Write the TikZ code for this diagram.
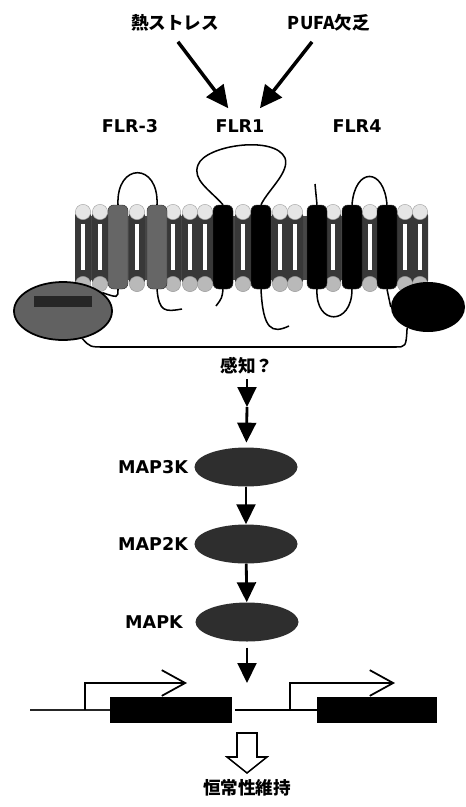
\documentclass[tikz,border=0pt]{standalone}
\usepackage{fontspec}
\usetikzlibrary{arrows.meta,shapes.geometric}
\newfontfamily\latfont{DejaVu Sans}
\newfontfamily\jpfont{Noto Sans CJK JP}

\tikzset{
  lbl/.style={font=\latfont\bfseries\fontsize{15}{18}\selectfont, inner sep=1pt},
  jlbl/.style={font=\jpfont\bfseries\fontsize{15}{18}\selectfont, inner sep=1pt},
  bigarrow/.style={line width=3pt, -{Triangle[length=19pt,width=18pt]}},
  kinarrow/.style={line width=2.4pt, -{Triangle[length=17pt,width=16pt]}},
  kinase/.style={ellipse, fill=black!82, minimum width=3.09cm, minimum height=1.17cm, inner sep=0pt},
  helix/.style={rectangle, rounded corners=5pt, minimum width=0.6cm, minimum height=2.52cm, inner sep=0pt, draw=black!80},
  loop/.style={line width=1.3pt},
  exon/.style={rectangle, fill=black, minimum height=0.79cm, inner sep=0pt},
  prom/.style={line width=1.5pt, -{Straight Barb[length=20pt,width=22pt]}},
}

\begin{document}
\begin{tikzpicture}[x=0.03cm, y=-0.03cm]
    \useasboundingbox (0,0) rectangle (465,807);

    \node[jlbl] (heat) at (175,23) {熱ストレス};
    \node[jlbl] (pufa) at (329,23) {PUFA欠乏};
    \node[lbl] (flr3) at (130,126) {FLR-3};
    \node[lbl] (flr1) at (240,126) {FLR1};
    \node[lbl] (flr4) at (357,126) {FLR4};
    \draw[bigarrow] ([xshift=2.5pt,yshift=-7.7pt]heat.south) -- ([xshift=-10pt,yshift=8.5pt]flr1.north);
    \draw[bigarrow] ([xshift=-14.5pt,yshift=-7.7pt]pufa.south) -- ([xshift=17pt,yshift=8.5pt]flr1.north);

    % lipid bilayer
    \fill[black!72] (78,216) rectangle (428,280);
    \foreach \x in {83,100,137,173,190,205,243,280,295,333,370,405,420} {
        \fill[black!78, rounded corners=2pt] (\x-8,213) rectangle (\x+8,283);
        \fill[white] (\x-2,224) rectangle (\x+2,270);
        \draw[gray!70, fill=gray!20] (\x,212) circle[radius=6.5pt];
        \draw[gray!80, fill=gray!55] (\x,284) circle[radius=6.5pt];
    }
    \foreach \x/\n/\c in {118/h1/black!60,157/h2/black!60,223/h3/black,261/h4/black,317/h5/black,352/h6/black,387/h7/black}
        \node[helix, fill=\c] (\n) at (\x,247) {};

    % loops and tails
    \draw[loop] (h1.north) .. controls (116,162) and (159,162) .. (h2.north);
    \draw[loop] (h3.north) .. controls (210,190) and (192,180) .. (198,165)
        .. controls (205,145) and (275,135) .. (285,158)
        .. controls (290,172) and (268,190) .. (h4.north);
    \coordinate (n4) at (315,184);
    \draw[loop] (h5.north) -- (n4);
    \draw[loop] (h6.north) .. controls (355,167) and (384,167) .. (h7.north);
    \draw[loop] (h5.south) .. controls (315,326) and (352,326) .. (h6.south);
    \coordinate (t2) at (182,309);
    \draw[loop] (h2.south) .. controls (159,312) and (165,312) .. (t2);
    \coordinate (t3) at (216,306);
    \draw[loop] (h3.south) .. controls (222,298) .. (t3);
    \coordinate (t4) at (289,326);
    \draw[loop] (h4.south) .. controls (263,330) and (272,334) .. (t4);

    \node[ellipse, draw, line width=1.5pt, fill=black!62, minimum width=2.94cm, minimum height=1.74cm] (lbd) at (63,311) {};
    \fill[black!85] (34,296) rectangle (92,307);
    \node[ellipse, fill=black, minimum width=2.22cm, minimum height=1.5cm] (rbd) at (428,307) {};
    \draw[loop] (h1.south) .. controls (118,298) .. (lbd.25);
    \draw[loop] (h7.south) .. controls (388,298) .. (rbd.west);
    \draw[loop] (lbd.-55) .. controls (90,347) .. (105,347) -- (395,347) .. controls (406,347) .. (rbd.-135);

    % MAPK cascade
    \node[jlbl] (sense) at (247,366) {感知？};
    \node[kinase] (map3k) at (246,467) {};
    \node[kinase] (map2k) at (246,544) {};
    \node[kinase] (mapk) at (247,622) {};
    \node[lbl] (lab3k) at (153,467) {MAP3K};
    \node[lbl] (lab2k) at (153,544) {MAP2K};
    \node[lbl] (labk) at (154,622) {MAPK};
    \coordinate (mid) at (247,407);
    \draw[kinarrow, shorten <=3pt] (sense) -- (mid);
    \draw[kinarrow, shorten >=4pt] (mid) -- (map3k);
    \draw[kinarrow] (map3k) -- (map2k);
    \draw[kinarrow] (map2k) -- (mapk);
    \coordinate (gene) at (247,683);
    \draw[kinarrow, shorten <=5pt] (mapk) -- (gene);

    % genes
    \node[exon, minimum width=3.66cm] (ex1) at (171,710) {};
    \node[exon, minimum width=3.6cm] (ex2) at (377,710) {};
    \coordinate (g0) at (30,710);
    \draw[line width=1.3pt, black!85] (g0) -- (ex1.west);
    \draw[line width=2.2pt] ([xshift=2.5pt]ex1.east) -- (ex2.west);
    \coordinate (tss1) at (85,710);
    \coordinate (tip1) at (187,683);
    \draw[prom] (tss1) |- (tip1);
    \coordinate (tss2) at (290,710);
    \coordinate (tip2) at (395,683);
    \draw[prom] (tss2) |- (tip2);

    \node[jlbl] (result) at (247,788) {恒常性維持};
    \draw[line width=1.3pt, fill=white] (237,733) -- (257,733) -- (257,757) -- (267,757)
        -- (247,773) -- (227,757) -- (237,757) -- cycle;
\end{tikzpicture}
\end{document}
